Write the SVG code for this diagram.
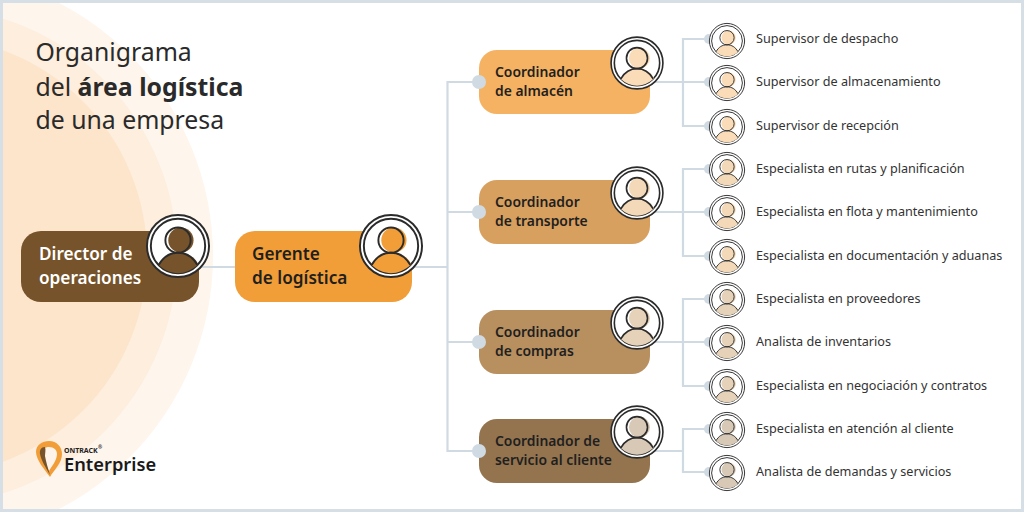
<svg xmlns="http://www.w3.org/2000/svg" width="1024" height="512" viewBox="0 0 1024 512">
<style>
text{font-family:"Noto Sans","Open Sans",sans-serif;fill:#1f1f1f}
.t{font-size:24.8px;fill:#2a2a2a}
.h{font-size:17.2px;font-weight:600}
.w{fill:#fff}
.c{font-size:13.9px;font-weight:600}
.s{font-size:12.65px;fill:#333}
.ln{fill:none;stroke:#d0dae2;stroke-width:2.2}
.dot{fill:#d0dae2}
.big{stroke-width:2}
.sm{stroke-width:1.7}
</style>
<defs>
<g id="person">
<circle r="32" fill="#fff" stroke="#2b2b2b"/>
<circle r="28" fill="#fff" stroke="#2b2b2b"/>
<circle cx="3" cy="-6" r="13" fill="currentColor"/>
<path d="M-20 19.600C-15 11-9 7.500 1 7.500C11 7.500 17 11 21 19C14 25 7 28 0 28C-7 28-14 25-20 19.600Z" fill="currentColor"/>
<circle cx="0" cy="-6" r="13" fill="none" stroke="#2b2b2b"/>
<path d="M-20 19.600C-15 11-9 7 0 7C9 7 15 11 20 19.600" fill="none" stroke="#2b2b2b"/>
</g>
</defs>
<rect width="1024" height="512" fill="#fff"/>
<circle cx="-72" cy="256" r="285" fill="#fef5ec"/>
<circle cx="-72" cy="256" r="249" fill="#fdeede"/>
<circle cx="-72" cy="256" r="219" fill="#fde5cc"/>
<rect x="1.500" y="1.500" width="1021" height="509" fill="none" stroke="#d6dfe6" stroke-width="3"/>

<g id="title">
<text class="t" x="35.500" y="61">Organigrama</text>
<text class="t" x="35.500" y="95.500">del <tspan font-weight="700">área logística</tspan></text>
<text class="t" x="35.500" y="129">de una empresa</text>
</g>

<g id="connectors">
<path class="ln" d="M199 267H235M412 267H447.500M479 82H447.500V451H479M447.500 212H479M447.500 342H479"/>
<path class="ln" d="M650 82H683M709 39H683V126H709M683 82H709"/>
<path class="ln" d="M650 212H683M709 169H683V256H709M683 212H709"/>
<path class="ln" d="M650 342H683M709 299H683V386H709M683 342H709"/>
<path class="ln" d="M650 451H683M709 429H683V472H709"/>
</g>

<g id="director"><rect x="21" y="231" width="178" height="71" rx="20" fill="#76532a"/>
<text class="h w" x="39" y="260">Director de</text><text class="h w" x="39" y="284">operaciones</text>
<use class="big" href="#person" transform="translate(178 246) scale(.97)" color="#76532a"/></g>
<g id="gerente"><rect x="235" y="231" width="177" height="71" rx="20" fill="#f19d38"/>
<text class="h" x="252" y="260">Gerente</text><text class="h" x="252" y="284">de logística</text>
<use class="big" href="#person" transform="translate(391 246) scale(.97)" color="#f19d38"/></g>

<g id="coord-almacen"><rect x="479" y="50" width="171" height="64" rx="18" fill="#f5b262"/><circle class="dot" cx="479" cy="82" r="7"/>
<text class="c" x="495" y="77">Coordinador</text><text class="c" x="495" y="96">de almacén</text>
<use class="big" href="#person" transform="translate(637 63) scale(.81)" color="#fbdcb8"/></g>
<g id="coord-transporte"><rect x="479" y="180" width="171" height="64" rx="18" fill="#d8a05f"/><circle class="dot" cx="479" cy="212" r="7"/>
<text class="c" x="495" y="207">Coordinador</text><text class="c" x="495" y="226">de transporte</text>
<use class="big" href="#person" transform="translate(637 193) scale(.81)" color="#f3d9b8"/></g>
<g id="coord-compras"><rect x="479" y="310" width="171" height="64" rx="18" fill="#b88f5f"/><circle class="dot" cx="479" cy="342" r="7"/>
<text class="c" x="495" y="337">Coordinador</text><text class="c" x="495" y="356">de compras</text>
<use class="big" href="#person" transform="translate(637 323) scale(.81)" color="#e6d2b8"/></g>
<g id="coord-servicio"><rect x="479" y="419" width="171" height="64" rx="18" fill="#94744f"/><circle class="dot" cx="479" cy="451" r="7"/>
<text class="c" x="495" y="446">Coordinador de</text><text class="c" x="495" y="465">servicio al cliente</text>
<use class="big" href="#person" transform="translate(637 432) scale(.81)" color="#d8c9b6"/></g>

<g id="s1"><circle class="dot" cx="709" cy="39" r="5"/><use class="sm" href="#person" transform="translate(727 41) scale(.55)" color="#fbdcb8"/><text class="s" x="756" y="43">Supervisor de despacho</text></g>
<g id="s2"><circle class="dot" cx="709" cy="82" r="5"/><use class="sm" href="#person" transform="translate(727 83) scale(.55)" color="#fbdcb8"/><text class="s" x="756" y="86">Supervisor de almacenamiento</text></g>
<g id="s3"><circle class="dot" cx="709" cy="126" r="5"/><use class="sm" href="#person" transform="translate(727 127) scale(.55)" color="#fbdcb8"/><text class="s" x="756" y="130">Supervisor de recepción</text></g>
<g id="s4"><circle class="dot" cx="709" cy="169" r="5"/><use class="sm" href="#person" transform="translate(727 170) scale(.55)" color="#f3d9b8"/><text class="s" x="756" y="173">Especialista en rutas y planificación</text></g>
<g id="s5"><circle class="dot" cx="709" cy="212" r="5"/><use class="sm" href="#person" transform="translate(727 213) scale(.55)" color="#f3d9b8"/><text class="s" x="756" y="216">Especialista en flota y mantenimiento</text></g>
<g id="s6"><circle class="dot" cx="709" cy="256" r="5"/><use class="sm" href="#person" transform="translate(727 257) scale(.55)" color="#f3d9b8"/><text class="s" x="756" y="260">Especialista en documentación y aduanas</text></g>
<g id="s7"><circle class="dot" cx="709" cy="299" r="5"/><use class="sm" href="#person" transform="translate(727 300) scale(.55)" color="#e6d2b8"/><text class="s" x="756" y="303">Especialista en proveedores</text></g>
<g id="s8"><circle class="dot" cx="709" cy="342" r="5"/><use class="sm" href="#person" transform="translate(727 343) scale(.55)" color="#e6d2b8"/><text class="s" x="756" y="346">Analista de inventarios</text></g>
<g id="s9"><circle class="dot" cx="709" cy="386" r="5"/><use class="sm" href="#person" transform="translate(727 387) scale(.55)" color="#e6d2b8"/><text class="s" x="756" y="390">Especialista en negociación y contratos</text></g>
<g id="s10"><circle class="dot" cx="709" cy="429" r="5"/><use class="sm" href="#person" transform="translate(727 430) scale(.55)" color="#d8c9b6"/><text class="s" x="756" y="433">Especialista en atención al cliente</text></g>
<g id="s11"><circle class="dot" cx="709" cy="472" r="5"/><use class="sm" href="#person" transform="translate(727 473) scale(.55)" color="#d8c9b6"/><text class="s" x="756" y="476">Analista de demandas y servicios</text></g>

<g id="logo">
<path d="M50 477C45 470 36 460 36 452C36 445 42 441 49 441C57 441 62 447 62 454C62 463 54 470 50 477Z" fill="#f19d38"/>
<path d="M49 471C46 465 42 458 42 453C42 449 45 447 49 447C54 447 57 450 57 454C57 460 52 466 49 471Z" fill="#fdf3e8"/>
<path d="M50 475C46 468 41 460 40 454C39.500 450 41 447 45 447C46 450 45 453 45 456C46 462 48 468 50 475Z" fill="#76532a"/>
<text x="64" y="453" style="font-size:7px;font-weight:700;fill:#222">ONTRACK</text>
<text x="98" y="449" style="font-size:5px;font-weight:700;fill:#222">®</text>
<text x="64" y="471" style="font-size:18.300px;font-weight:600;fill:#1a1a1a">Enterprise</text>
</g>
</svg>
